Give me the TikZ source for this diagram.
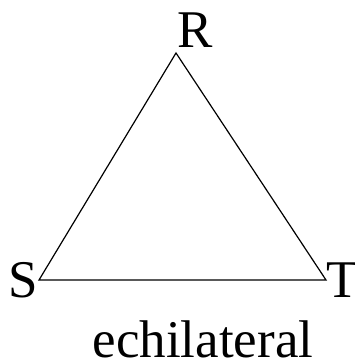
\documentclass[tikz,border=0pt]{standalone}
\usepackage{fontspec}
\setmainfont{Liberation Serif}
\usepackage{tikz}

\begin{document}
\begin{tikzpicture}[x=1pt,y=1pt,line width=1.2pt,
  vlabel/.style={inner sep=0pt,font=\fontsize{53}{53}\selectfont}]

\useasboundingbox (0,0) rectangle (354,361);

\coordinate (R) at (176,308);
\coordinate (S) at (39,81);
\coordinate (T) at (326,81);

\draw (R) -- (S) -- (T) -- cycle;

\node[vlabel,anchor=south west] (Rlab) at (177,313) {R};
\node[vlabel,anchor=east] (Slab) at (S) {S};
\node[vlabel,anchor=west] (Tlab) at (T) {T};
\node[vlabel,anchor=base] (name) at (203,3) {echilateral};

\end{tikzpicture}
\end{document}
